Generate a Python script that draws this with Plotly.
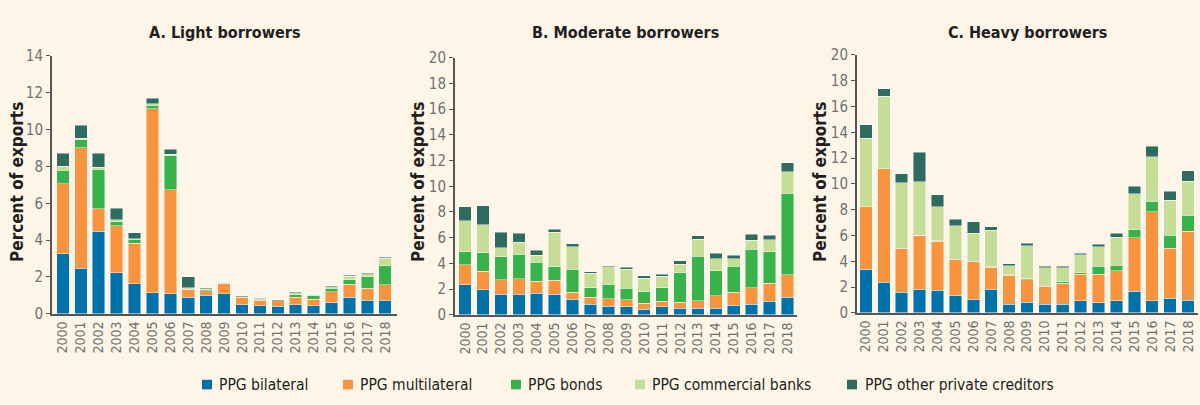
import plotly.graph_objects as go

# ---- data: PPG debt service by creditor type, percent of exports ----
years = [str(y) for y in range(2000, 2019)]

series_names = ["PPG bilateral", "PPG multilateral", "PPG bonds",
                "PPG commercial banks", "PPG other private creditors"]
series_colors = ["#0072AA", "#F7943D", "#37B34A", "#C5DD96", "#2F6B5F"]

# A. Light borrowers
light_bilateral = [3.25, 2.47, 4.45, 2.22, 1.64, 1.14, 1.09, 0.90, 1.00, 1.09,
                   0.50, 0.45, 0.40, 0.50, 0.45, 0.60, 0.90, 0.74, 0.74]
light_multilateral = [3.80, 6.55, 1.24, 2.57, 2.19, 10.00, 5.65, 0.44, 0.26, 0.55,
                      0.41, 0.29, 0.31, 0.41, 0.34, 0.61, 0.70, 0.66, 0.83]
light_bonds = [0.75, 0.43, 2.15, 0.21, 0.22, 0.17, 1.84, 0.04, 0.04, 0.03,
               0.01, 0.05, 0.00, 0.12, 0.18, 0.19, 0.24, 0.60, 1.03]
light_commercial = [0.20, 0.08, 0.12, 0.10, 0.03, 0.10, 0.07, 0.03, 0.05, 0.04,
                    0.01, 0.02, 0.01, 0.11, 0.08, 0.07, 0.21, 0.17, 0.42]
light_other = [0.70, 0.70, 0.74, 0.64, 0.33, 0.30, 0.28, 0.59, 0.07, 0.03,
               0.04, 0.04, 0.04, 0.07, 0.05, 0.05, 0.04, 0.07, 0.05]

# B. Moderate borrowers
moderate_bilateral = [2.32, 1.95, 1.60, 1.60, 1.68, 1.60, 1.19, 0.81, 0.67, 0.62,
                      0.44, 0.62, 0.52, 0.52, 0.52, 0.74, 0.81, 1.04, 1.38]
moderate_multilateral = [1.58, 1.43, 1.12, 1.21, 0.91, 1.07, 0.56, 0.57, 0.59, 0.54,
                         0.47, 0.44, 0.44, 0.57, 0.96, 1.01, 1.31, 1.40, 1.73]
moderate_bonds = [1.01, 1.46, 1.80, 1.91, 1.48, 1.08, 1.81, 0.72, 1.11, 0.91,
                  0.89, 1.04, 2.30, 3.48, 1.93, 2.03, 2.97, 2.47, 6.34]
moderate_commercial = [2.42, 2.15, 0.69, 0.93, 0.57, 2.67, 1.72, 1.13, 1.38, 1.49,
                       1.04, 0.91, 0.67, 1.31, 0.94, 0.59, 0.69, 0.94, 1.67]
moderate_other = [1.09, 1.50, 1.21, 0.70, 0.37, 0.22, 0.23, 0.13, 0.08, 0.14,
                  0.20, 0.15, 0.29, 0.27, 0.44, 0.27, 0.49, 0.35, 0.71]

# C. Heavy borrowers
heavy_bilateral = [3.40, 2.36, 1.61, 1.84, 1.76, 1.32, 1.04, 1.84, 0.65, 0.84,
                   0.65, 0.65, 0.92, 0.79, 0.92, 1.69, 0.92, 1.12, 0.99]
heavy_multilateral = [4.84, 8.83, 3.35, 4.16, 3.80, 2.80, 2.93, 1.71, 2.28, 1.74,
                      1.41, 1.66, 2.06, 2.21, 2.36, 4.14, 6.90, 3.87, 5.34]
heavy_bonds = [0.00, 0.00, 0.03, 0.02, 0.02, 0.02, 0.02, 0.02, 0.03, 0.05,
               0.07, 0.12, 0.12, 0.60, 0.42, 0.60, 0.84, 1.01, 1.24]
heavy_commercial = [5.30, 5.60, 5.10, 4.15, 2.66, 2.61, 2.19, 2.83, 0.69, 2.56,
                    1.37, 1.07, 1.42, 1.54, 2.18, 2.80, 3.46, 2.73, 2.65]
heavy_other = [1.04, 0.60, 0.70, 2.28, 0.92, 0.50, 0.87, 0.27, 0.17, 0.19,
               0.12, 0.10, 0.12, 0.19, 0.30, 0.57, 0.78, 0.70, 0.81]

panel_titles = ["A. Light borrowers", "B. Moderate borrowers", "C. Heavy borrowers"]
y_axis_title = "Percent of exports"

panels = [
    [light_bilateral, light_multilateral, light_bonds, light_commercial, light_other],
    [moderate_bilateral, moderate_multilateral, moderate_bonds, moderate_commercial, moderate_other],
    [heavy_bilateral, heavy_multilateral, heavy_bonds, heavy_commercial, heavy_other],
]
y_ranges = [[0, 14], [0, 20], [0, 20]]

# ---- layout geometry (pixels in a 1200 x 405 page) ----
W, H = 1200, 405
BG = "#FDF5E8"
NARROW = "DejaVu Sans Condensed, Liberation Sans Narrow, sans-serif"
AXIS_COLOR = "#555555"

# x extent of each plot area, y of the zero line and of the top tick, x range
plot_px = [
    dict(x0=52, x1=397, y0=319, y1=49, xr=[-0.61, 18.66], title_x=17),
    dict(x0=455, x1=797, y0=320, y1=51, xr=[-0.56, 18.53], title_x=418),
    dict(x0=857, x1=1198, y0=318, y1=48, xr=[-0.50, 18.56], title_x=820),
]

fig = go.Figure()
layout = dict(
    width=W, height=H,
    margin=dict(l=0, r=0, t=0, b=0),
    paper_bgcolor=BG, plot_bgcolor="rgba(0,0,0,0)",
    barmode="stack", bargap=0.3,
    showlegend=False,
    font=dict(family=NARROW, color="#333333"),
)

annotations = []
shapes = []

# faint warm tint fading in towards the right edge of the page
for i in range(60):
    shapes.append(dict(type="rect", xref="paper", yref="paper", layer="below",
                       x0=(1080 + 2 * i) / W, x1=1.0, y0=0, y1=1,
                       line=dict(width=0), fillcolor="rgba(246,205,160,0.004)"))

for p, (vals, geo, yr) in enumerate(zip(panels, plot_px, y_ranges)):
    suffix = "" if p == 0 else str(p + 1)
    xa, ya = "x" + suffix, "y" + suffix
    for name, color, v in zip(series_names, series_colors, vals):
        fig.add_trace(go.Bar(
            x=years, y=v, name=name, xaxis=xa, yaxis=ya,
            marker=dict(color=color, line=dict(color="rgba(255,255,255,0.55)", width=0.8)),
            legendgroup=name, showlegend=False,
        ))
    xd = [geo["x0"] / W, geo["x1"] / W]
    yd = [(H - geo["y0"]) / H, (H - geo["y1"]) / H]
    layout["xaxis" + suffix] = dict(
        domain=xd, anchor=ya, type="category", range=geo["xr"],
        tickmode="array", tickvals=years, ticktext=years,
        showline=True, linecolor=AXIS_COLOR, linewidth=2,
        ticks="", tickangle=-90, showgrid=False, zeroline=False,
        tickfont=dict(family=NARROW, size=14, color="#707070"),
    )
    layout["yaxis" + suffix] = dict(
        domain=yd, anchor=xa, range=yr,
        tickvals=list(range(yr[0], yr[1] + 1, 2)),
        showline=True, linecolor=AXIS_COLOR, linewidth=2,
        ticks="outside", ticklen=4, tickwidth=1, tickcolor=AXIS_COLOR,
        showgrid=False, zeroline=False,
        tickfont=dict(family=NARROW, size=15, color="#707070"),
    )
    # panel title
    annotations.append(dict(
        text="<b>%s</b>" % panel_titles[p], xref="paper", yref="paper",
        x=(geo["x0"] + geo["x1"]) / 2 / W, y=(H - 25) / H,
        xanchor="center", yanchor="middle", showarrow=False,
        font=dict(family=NARROW, size=16, color="#231F20"),
    ))
    # y-axis title
    annotations.append(dict(
        text="<b>%s</b>" % y_axis_title, xref="paper", yref="paper",
        x=geo["title_x"] / W, y=(H - 181) / H, textangle=-90,
        xanchor="center", yanchor="middle", showarrow=False,
        font=dict(family=NARROW, size=17, color="#231F20"),
    ))

# legend row under the panels
legend_px = [(202, 217), (343, 358), (511, 526), (635, 650), (847, 863)]
ly = 393
for (sx, tx), name, color in zip(legend_px, series_names, series_colors):
    shapes.append(dict(type="rect", xref="paper", yref="paper",
                       x0=sx / W, x1=(sx + 10) / W,
                       y0=(H - ly - 5) / H, y1=(H - ly + 5) / H,
                       line=dict(width=0), fillcolor=color))
    annotations.append(dict(
        text=name, xref="paper", yref="paper", x=tx / W, y=(H - ly) / H,
        xanchor="left", yanchor="middle", showarrow=False,
        font=dict(family=NARROW, size=15.5, color="#231F20"),
    ))

layout["annotations"] = annotations
layout["shapes"] = shapes
fig.update_layout(**layout)
fig.write_html("out.html")
